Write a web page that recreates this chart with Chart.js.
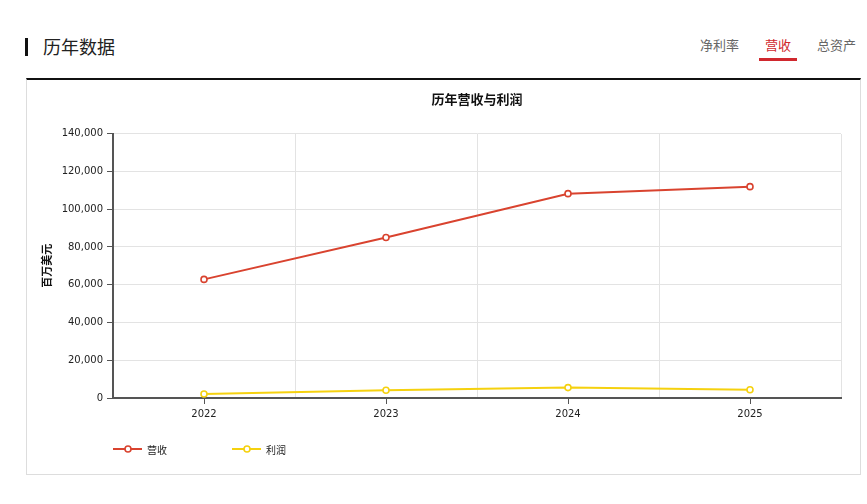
<!DOCTYPE html>
<html><head><meta charset="utf-8">
<script src="https://cdn.jsdelivr.net/npm/chart.js@4.4.0/dist/chart.umd.min.js"></script>
<style>
html,body{margin:0;padding:0;background:#fff;width:867px;height:504px;overflow:hidden;font-family:"Noto Sans CJK SC","DejaVu Sans",sans-serif;}
#bar{position:absolute;left:25px;top:38px;width:3px;height:18px;background:#111;}
#head{position:absolute;left:43px;top:33px;font-size:18px;line-height:26px;color:#222;}
.tab{position:absolute;top:36px;font-size:13px;line-height:18px;color:#666;}
#t2{color:#d0282e;}
#ul{position:absolute;left:759px;top:58px;width:38px;height:3px;background:#d0282e;}
#box{position:absolute;left:26px;top:78px;width:833px;height:394px;border:1px solid #ddd;border-top:2px solid #111;}
#c{position:absolute;left:28px;top:80px;}
</style></head>
<body>
<div id="bar"></div>
<div id="head">历年数据</div>
<div class="tab" style="left:700px">净利率</div>
<div class="tab" id="t2" style="left:765px">营收</div>
<div class="tab" style="left:817px">总资产</div>
<div id="ul"></div>
<div id="box"></div>
<canvas id="c" width="831" height="393"></canvas>
<script>
const years = ['2022', '2023', '2024', '2025'];
const revenue = [62800, 85000, 108200, 111900];
const profit = [2100, 4100, 5500, 4400];
const yTicks = [0, 20000, 40000, 60000, 80000, 100000, 120000, 140000];
const seriesNames = ['营收', '利润'];
const seriesColors = ['#d9432f', '#f5d10f'];

Chart.defaults.font.family = "'DejaVu Sans', 'Noto Sans CJK SC', sans-serif";
Chart.defaults.font.size = 10;
Chart.defaults.color = '#222';

const legendPlugin = {
  id: 'lineLegend',
  afterDraw(chart) {
    const ctx = chart.ctx;
    const y = 369;
    const starts = [85, 204];
    ctx.save();
    chart.data.datasets.forEach((ds, i) => {
      const x = starts[i];
      ctx.strokeStyle = ds.borderColor;
      ctx.lineWidth = 2;
      ctx.beginPath(); ctx.moveTo(x, y); ctx.lineTo(x + 29, y); ctx.stroke();
      ctx.beginPath(); ctx.arc(x + 15, y, 3, 0, Math.PI * 2);
      ctx.fillStyle = '#fff'; ctx.fill(); ctx.lineWidth = 1.6; ctx.stroke();
      ctx.fillStyle = '#222';
      ctx.font = "10px 'Noto Sans CJK SC', sans-serif";
      ctx.textBaseline = 'middle';
      ctx.fillText(ds.label, x + 34, y + 1);
    });
    ctx.restore();
  }
};

new Chart(document.getElementById('c'), {
  type: 'line',
  data: {
    labels: years,
    datasets: [
      { label: seriesNames[0], data: revenue, borderColor: seriesColors[0], backgroundColor: '#fff',
        borderWidth: 2, pointRadius: 3, pointBorderWidth: 1.6, pointBackgroundColor: '#fff', tension: 0 },
      { label: seriesNames[1], data: profit, borderColor: seriesColors[1], backgroundColor: '#fff',
        borderWidth: 2, pointRadius: 3, pointBorderWidth: 1.6, pointBackgroundColor: '#fff', tension: 0 }
    ]
  },
  options: {
    responsive: false,
    animation: false,
    devicePixelRatio: 1,
    layout: { padding: { left: 0, right: 18, top: 0, bottom: 38 } },
    plugins: {
      legend: { display: false },
      tooltip: { enabled: false },
      title: {
        display: true, text: '历年营收与利润', fullSize: false, color: '#111',
        font: { size: 13, weight: 'bold', family: "'Noto Sans CJK SC', sans-serif" },
        padding: { top: 11, bottom: 27 }
      }
    },
    scales: {
      x: {
        type: 'category', position: 'bottom', offset: true,
        grid: { offset: false, drawOnChartArea: false, tickLength: 6, tickColor: '#555', tickWidth: 1 },
        border: { color: '#555', width: 2 },
        ticks: { padding: 4, color: '#222', maxRotation: 0 },
        afterFit(s) { s.height = 37; }
      },
      x2: {
        type: 'category', position: 'top', offset: true,
        grid: { offset: true, color: '#e3e3e3', drawTicks: false, lineWidth: 1 },
        border: { display: false },
        ticks: { display: false },
        afterFit(s) { s.height = 0; }
      },
      y: {
        min: 0, max: 140000,
        afterBuildTicks(s) { s.ticks = yTicks.map(v => ({ value: v })); },
        grid: { color: '#e3e3e3', tickLength: 6, tickColor: '#555' },
        border: { color: '#555', width: 2 },
        ticks: { padding: 4, color: '#222', callback: v => v.toLocaleString('en-US') },
        title: { display: true, text: '百万美元', color: '#111',
          font: { size: 11, weight: 'bold', family: "'Noto Sans CJK SC', sans-serif" },
          padding: { top: 12, bottom: 0 } },
        afterFit(s) { s.width = 85; }
      }
    }
  },
  plugins: [legendPlugin]
});
</script>
</body></html>
